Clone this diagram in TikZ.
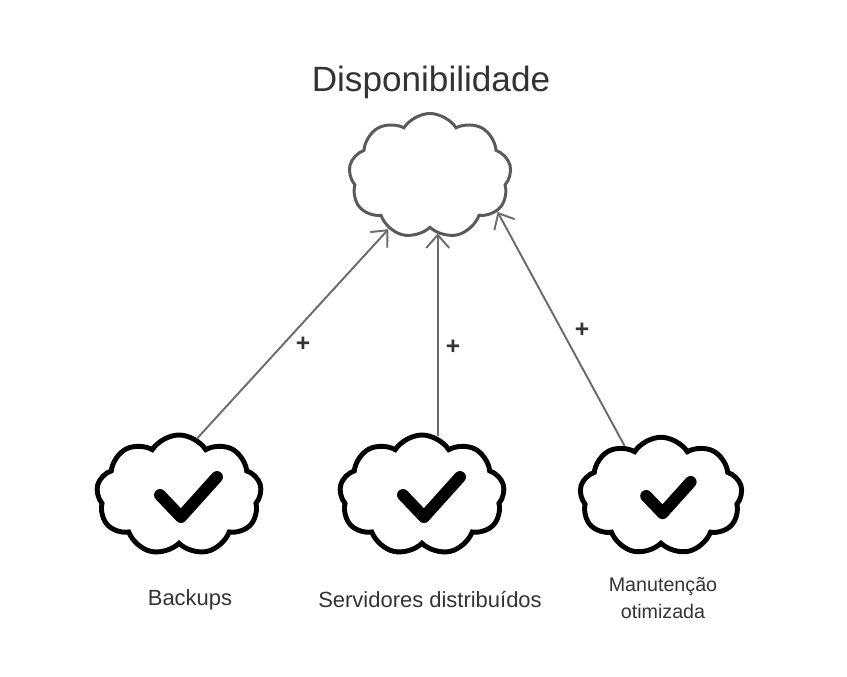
\documentclass[tikz,border=0pt]{standalone}
\usepackage{fontspec}
\setmainfont{Liberation Sans}
\usetikzlibrary{shapes.symbols}
\usetikzlibrary{arrows.meta}

\definecolor{linegray}{HTML}{5A5A5A}
\definecolor{textgray}{HTML}{333333}

\begin{document}
\begin{tikzpicture}
      [goal/.style={cloud, cloud puffs=9, cloud puff arc=115, cloud ignores aspect,
          draw=linegray, line width=1.7pt, minimum width=3.25cm, minimum height=2.5cm},
        factor/.style={cloud, cloud puffs=9, cloud puff arc=115, cloud ignores aspect,
          draw=black, line width=2.8pt, minimum width=3.3cm, minimum height=2.4cm},
        link/.style={draw=linegray!90, line width=1.1pt,
          -{Straight Barb[length=2.6mm, width=4.6mm, line width=1.1pt]}},
        sign/.style={font=\bfseries\fontsize{14}{14}\selectfont, text=textgray},
        caption/.style={font=\fontsize{12.5}{16}\selectfont, text=textgray, align=center},
        tick/.style={line width=6.8pt, line cap=round, line join=round}]
  \useasboundingbox (0,0) rectangle (16.94,-13.54);

  \node[font=\fontsize{20}{24}\selectfont, text=textgray] (title) at (8.62,-1.64) {Disponibilidade};
  \node[goal] (avail) at (8.6,-3.52) {};

  \node[factor] (backups) at (3.58,-9.9) {};
  \node[factor] (servers) at (8.44,-9.9) {};
  \node[factor, minimum width=3.25cm, minimum height=2.35cm] (maint) at (13.22,-9.92) {};

  % checks
  \foreach \n/\s in {backups/1, servers/1, maint/0.78} {
    \draw[tick] ([shift={(-0.38*\s,0)}]\n.center) -- ([shift={(0.04*\s,-0.44*\s)}]\n.center)
      -- ([shift={(0.76*\s,0.36*\s)}]\n.center);
  }

  \node[caption] (lbackups) at (3.8,-12.0) {Backups};
  \node[caption] (lservers) at (8.6,-12.0) {Servidores distribuídos};
  \node[caption, font=\fontsize{11.2}{15}\selectfont] (lmaint) at (13.26,-11.96) {Manutenção\\otimizada};

  \draw[link] (backups.72) -- (avail.232);
  \draw[link] (servers.75) -- (servers.75 |- avail.-84);
  \draw[link] (maint.126) -- (avail.-28);

  \node[sign] (p1) at (6.06,-6.88) {+};
  \node[sign] (p2) at (9.06,-6.94) {+};
  \node[sign] (p3) at (11.64,-6.6) {+};
\end{tikzpicture}
\end{document}
